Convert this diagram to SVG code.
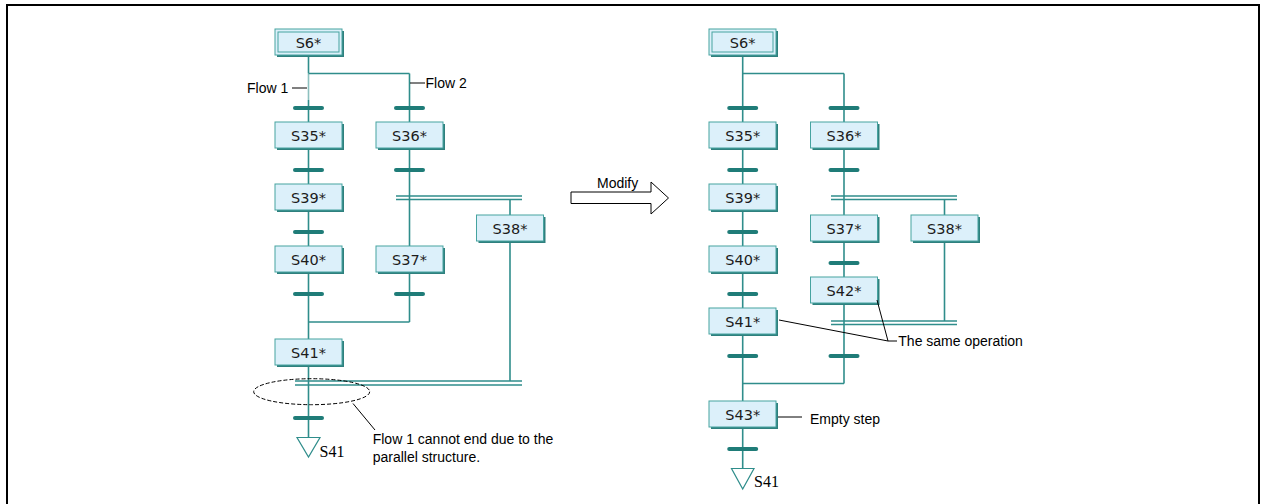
<svg xmlns="http://www.w3.org/2000/svg" width="1261" height="504" viewBox="0 0 1261 504">
<style>
.ln{stroke:#2f8d8b;stroke-width:1.6;fill:none}
.dl{stroke:#2f8d8b;stroke-width:1.4;fill:none}
.tr{fill:#1f7c78}
.sh{fill:#2f807e}
.bx{fill:#dcf0fa;stroke:#46a3a0;stroke-width:1}
.bt{font-family:"DejaVu Sans",sans-serif;font-size:14.5px;fill:#1c1c1c;text-anchor:middle}
.an{font-family:"Liberation Sans",Arial,sans-serif;font-size:14px;fill:#000}
.sr{font-family:"Liberation Serif","Times New Roman",serif;font-size:16px;fill:#000}
.cl{stroke:#000;stroke-width:1;fill:none}
.tri{fill:#fff;stroke:#2f8d8b;stroke-width:1.2}
</style>
<rect x="0" y="0" width="1261" height="504" fill="#fff"/>
<rect x="7" y="5" width="1252" height="510" fill="none" stroke="#000" stroke-width="2"/>

<g id="connectors">
  <!-- left diagram -->
  <line class="ln" x1="308.5" y1="55" x2="308.5" y2="73"/>
  <line class="ln" x1="308.5" y1="73" x2="308.5" y2="100" stroke-opacity="0.55"/>
  <line class="ln" x1="308.5" y1="100" x2="308.5" y2="437"/>
  <line class="ln" x1="308.5" y1="73.5" x2="409.5" y2="73.5"/>
  <line class="ln" x1="409.5" y1="73.5" x2="409.5" y2="322"/>
  <line class="ln" x1="308.5" y1="322" x2="409.5" y2="322"/>
  <line class="dl" x1="396" y1="196" x2="522" y2="196"/>
  <line class="dl" x1="396" y1="199.5" x2="522" y2="199.5"/>
  <line class="ln" x1="510" y1="199.5" x2="510" y2="381"/>
  <line class="dl" x1="295" y1="381" x2="522" y2="381"/>
  <line class="dl" x1="295" y1="385" x2="522" y2="385"/>
  <g class="tr">
    <rect x="293" y="106" width="31" height="4" rx="2"/>
    <rect x="293" y="168" width="31" height="4" rx="2"/>
    <rect x="293" y="230" width="31" height="4" rx="2"/>
    <rect x="293" y="292" width="31" height="4" rx="2"/>
    <rect x="293" y="416" width="31" height="4" rx="2"/>
    <rect x="394" y="106" width="31" height="4" rx="2"/>
    <rect x="394" y="168" width="31" height="4" rx="2"/>
    <rect x="394" y="292" width="31" height="4" rx="2"/>
  </g>
  <!-- right diagram -->
  <line class="ln" x1="742.7" y1="55" x2="742.7" y2="468"/>
  <line class="ln" x1="742.7" y1="73.5" x2="844" y2="73.5"/>
  <line class="ln" x1="844" y1="73.5" x2="844" y2="383.5"/>
  <line class="ln" x1="742.7" y1="383.5" x2="844" y2="383.5"/>
  <line class="dl" x1="831" y1="196" x2="957" y2="196"/>
  <line class="dl" x1="831" y1="199.5" x2="957" y2="199.5"/>
  <line class="ln" x1="944.5" y1="199.5" x2="944.5" y2="321"/>
  <line class="dl" x1="831" y1="321" x2="957" y2="321"/>
  <line class="dl" x1="831" y1="324.5" x2="957" y2="324.5"/>
  <g class="tr">
    <rect x="727.2" y="106" width="31" height="4" rx="2"/>
    <rect x="727.2" y="168" width="31" height="4" rx="2"/>
    <rect x="727.2" y="230" width="31" height="4" rx="2"/>
    <rect x="727.2" y="292" width="31" height="4" rx="2"/>
    <rect x="727.2" y="354" width="31" height="4" rx="2"/>
    <rect x="727.2" y="447" width="31" height="4" rx="2"/>
    <rect x="828.5" y="106" width="31" height="4" rx="2"/>
    <rect x="828.5" y="168" width="31" height="4" rx="2"/>
    <rect x="828.5" y="261" width="31" height="4" rx="2"/>
    <rect x="828.5" y="354" width="31" height="4" rx="2"/>
  </g>
</g>

<!-- left nodes -->
<g id="L-S6"><rect class="sh" x="277" y="31" width="67" height="26"/><rect class="bx" x="275" y="29" width="67" height="26"/><rect class="bx" x="278" y="32" width="61" height="20"/><text class="bt" x="308.5" y="47.5">S6*</text></g>
<g id="L-S35"><rect class="sh" x="277" y="124" width="67" height="26"/><rect class="bx" x="275" y="122" width="67" height="26"/><text class="bt" x="308.5" y="140.7">S35*</text></g>
<g id="L-S36"><rect class="sh" x="378" y="124" width="67" height="26"/><rect class="bx" x="376" y="122" width="67" height="26"/><text class="bt" x="409.5" y="140.7">S36*</text></g>
<g id="L-S39"><rect class="sh" x="277" y="186" width="67" height="26"/><rect class="bx" x="275" y="184" width="67" height="26"/><text class="bt" x="308.5" y="202.7">S39*</text></g>
<g id="L-S40"><rect class="sh" x="277" y="248" width="67" height="26"/><rect class="bx" x="275" y="246" width="67" height="26"/><text class="bt" x="308.5" y="264.7">S40*</text></g>
<g id="L-S37"><rect class="sh" x="378" y="248" width="67" height="26"/><rect class="bx" x="376" y="246" width="67" height="26"/><text class="bt" x="409.5" y="264.7">S37*</text></g>
<g id="L-S38"><rect class="sh" x="478.5" y="217" width="67" height="26"/><rect class="bx" x="476.5" y="215" width="67" height="26"/><text class="bt" x="510" y="233.7">S38*</text></g>
<g id="L-S41"><rect class="sh" x="277" y="341" width="67" height="26"/><rect class="bx" x="275" y="339" width="67" height="26"/><text class="bt" x="308.5" y="357.7">S41*</text></g>
<g id="L-jump"><polygon class="tri" points="297,437.5 320,437.5 308.5,457"/><text class="sr" x="319.5" y="456.7">S41</text></g>

<!-- left annotations -->
<g id="L-notes">
  <line class="cl" x1="292" y1="88" x2="307" y2="88"/>
  <text class="an" x="247" y="93">Flow 1</text>
  <line class="cl" x1="410" y1="83" x2="425" y2="83"/>
  <text class="an" x="425.5" y="87.5">Flow 2</text>
  <ellipse cx="311.7" cy="391.7" rx="58" ry="13" fill="none" stroke="#000" stroke-width="1" stroke-dasharray="4,2"/>
  <line class="cl" x1="353" y1="403.5" x2="375" y2="430"/>
  <text class="an" x="372.7" y="444.3">Flow 1 cannot end due to the</text>
  <text class="an" x="372.7" y="462">parallel structure.</text>
</g>

<!-- modify arrow -->
<g id="modify">
  <polygon points="571,192 651,192 651,182 668.5,198 651,214 651,203.5 571,203.5" fill="#fff" stroke="#000" stroke-width="1"/>
  <text class="an" x="597" y="187.7">Modify</text>
</g>

<!-- right nodes -->
<g id="R-S6"><rect class="sh" x="711" y="31" width="67" height="26"/><rect class="bx" x="709" y="29" width="67" height="26"/><rect class="bx" x="712" y="32" width="61" height="20"/><text class="bt" x="742.7" y="47.5">S6*</text></g>
<g id="R-S35"><rect class="sh" x="711" y="124" width="67" height="26"/><rect class="bx" x="709" y="122" width="67" height="26"/><text class="bt" x="742.7" y="140.7">S35*</text></g>
<g id="R-S36"><rect class="sh" x="812.5" y="124" width="67" height="26"/><rect class="bx" x="810.5" y="122" width="67" height="26"/><text class="bt" x="844" y="140.7">S36*</text></g>
<g id="R-S39"><rect class="sh" x="711" y="186" width="67" height="26"/><rect class="bx" x="709" y="184" width="67" height="26"/><text class="bt" x="742.7" y="202.7">S39*</text></g>
<g id="R-S37"><rect class="sh" x="812.5" y="217" width="67" height="26"/><rect class="bx" x="810.5" y="215" width="67" height="26"/><text class="bt" x="844" y="233.7">S37*</text></g>
<g id="R-S38"><rect class="sh" x="913" y="217" width="67" height="26"/><rect class="bx" x="911" y="215" width="67" height="26"/><text class="bt" x="944.5" y="233.7">S38*</text></g>
<g id="R-S40"><rect class="sh" x="711" y="248" width="67" height="26"/><rect class="bx" x="709" y="246" width="67" height="26"/><text class="bt" x="742.7" y="264.7">S40*</text></g>
<g id="R-S42"><rect class="sh" x="812.5" y="279" width="67" height="26"/><rect class="bx" x="810.5" y="277" width="67" height="26"/><text class="bt" x="844" y="295.7">S42*</text></g>
<g id="R-S41"><rect class="sh" x="711" y="310" width="67" height="26"/><rect class="bx" x="709" y="308" width="67" height="26"/><text class="bt" x="742.7" y="326.7">S41*</text></g>
<g id="R-S43"><rect class="sh" x="711" y="403" width="67" height="26"/><rect class="bx" x="709" y="401" width="67" height="26"/><text class="bt" x="742.7" y="419.7">S43*</text></g>
<g id="R-jump"><polygon class="tri" points="731.5,468.5 754,468.5 742.7,489"/><text class="sr" x="754" y="487.3">S41</text></g>

<!-- right annotations -->
<g id="R-notes">
  <line class="cl" x1="779" y1="320" x2="888" y2="341"/>
  <line class="cl" x1="877" y1="300" x2="888" y2="341"/>
  <line class="cl" x1="888" y1="341" x2="897" y2="341"/>
  <text class="an" x="898.3" y="345.5">The same operation</text>
  <line class="cl" x1="778" y1="417" x2="802" y2="417"/>
  <text class="an" x="810" y="423.5">Empty step</text>
</g>
</svg>
